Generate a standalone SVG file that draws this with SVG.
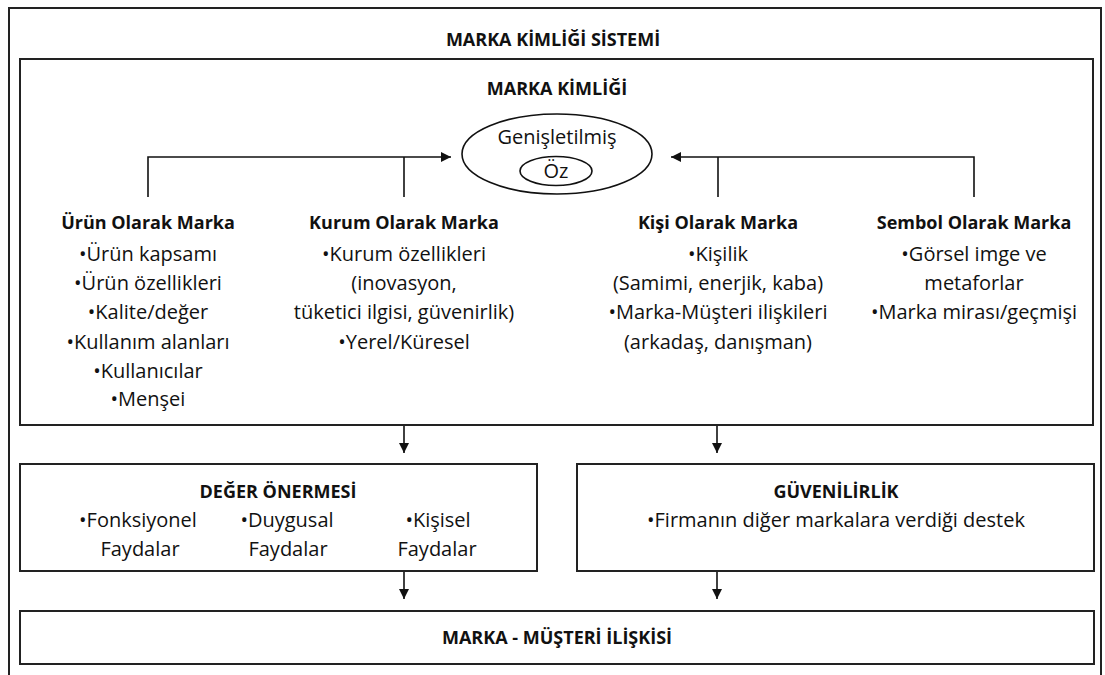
<svg xmlns="http://www.w3.org/2000/svg" width="1105" height="675" viewBox="0 0 1105 675">
<style>
.frame{fill:none;stroke:#222;stroke-width:2}
.box{fill:#fff;stroke:#222;stroke-width:2}
.line{fill:none;stroke:#111;stroke-width:1.6}
.t{font-family:"Open Sans","Liberation Sans",sans-serif;fill:#111;text-anchor:middle}
.b{font-weight:700;font-size:18px}
.r{font-size:20px}
</style>
<defs>
<marker id="ah" viewBox="0 0 10 10" refX="10" refY="5" markerWidth="10" markerHeight="10" markerUnits="userSpaceOnUse" orient="auto">
<path d="M0,0 L10,5 L0,10 Z" fill="#111"/>
</marker>
</defs>
<rect width="1105" height="675" fill="#fff"/>
<g id="system">
<rect class="frame" x="9" y="8" width="1092" height="690"/>
<text class="t b" x="553" y="46">MARKA KİMLİĞİ SİSTEMİ</text>
</g>
<g id="identity">
<rect class="box" x="20" y="59" width="1073" height="366"/>
<text class="t b" x="557" y="95">MARKA KİMLİĞİ</text>
</g>
<g id="core">
<ellipse cx="557" cy="154" rx="95" ry="40" fill="#fff" stroke="#111" stroke-width="1.6"/>
<text class="t r" x="557" y="144">Genişletilmiş</text>
<ellipse cx="556" cy="171" rx="36" ry="14.5" fill="#fff" stroke="#111" stroke-width="1.6"/>
<text class="t r" x="556" y="178">Öz</text>
</g>
<g id="product">
<text class="t b" x="148" y="229">Ürün Olarak Marka</text>
<text class="t r" x="148" y="261">•Ürün kapsamı</text>
<text class="t r" x="148" y="290">•Ürün özellikleri</text>
<text class="t r" x="148" y="319">•Kalite/değer</text>
<text class="t r" x="148" y="349">•Kullanım alanları</text>
<text class="t r" x="148" y="378">•Kullanıcılar</text>
<text class="t r" x="148" y="406">•Menşei</text>
</g>
<g id="organization">
<text class="t b" x="404" y="229">Kurum Olarak Marka</text>
<text class="t r" x="404" y="261">•Kurum özellikleri</text>
<text class="t r" x="404" y="290">(inovasyon,</text>
<text class="t r" x="404" y="319">tüketici ilgisi, güvenirlik)</text>
<text class="t r" x="404" y="349">•Yerel/Küresel</text>
</g>
<g id="person">
<text class="t b" x="718" y="229">Kişi Olarak Marka</text>
<text class="t r" x="718" y="261">•Kişilik</text>
<text class="t r" x="718" y="290">(Samimi, enerjik, kaba)</text>
<text class="t r" x="718" y="319">•Marka-Müşteri ilişkileri</text>
<text class="t r" x="718" y="349">(arkadaş, danışman)</text>
</g>
<g id="symbol">
<text class="t b" x="974" y="229">Sembol Olarak Marka</text>
<text class="t r" x="974" y="261">•Görsel imge ve</text>
<text class="t r" x="974" y="290">metaforlar</text>
<text class="t r" x="974" y="319">•Marka mirası/geçmişi</text>
</g>
<g id="value">
<rect class="box" x="20" y="464" width="517" height="107"/>
<text class="t b" x="278" y="498">DEĞER ÖNERMESİ</text>
<text class="t r" x="138" y="527">•Fonksiyonel</text>
<text class="t r" x="140" y="556">Faydalar</text>
<text class="t r" x="287" y="527">•Duygusal</text>
<text class="t r" x="288" y="556">Faydalar</text>
<text class="t r" x="438" y="527">•Kişisel</text>
<text class="t r" x="437" y="556">Faydalar</text>
</g>
<g id="credibility">
<rect class="box" x="577" y="464" width="517" height="107"/>
<text class="t b" x="836" y="498">GÜVENİLİRLİK</text>
<text class="t r" x="836" y="527">•Firmanın diğer markalara verdiği destek</text>
</g>
<g id="relationship">
<rect class="box" x="20" y="611" width="1074" height="53"/>
<text class="t b" x="557" y="644">MARKA - MÜŞTERİ İLİŞKİSİ</text>
</g>
<g id="connectors">
<path class="line" d="M148,197 V157 H451" marker-end="url(#ah)"/>
<path class="line" d="M404,197 V157"/>
<path class="line" d="M974,197 V157 H671" marker-end="url(#ah)"/>
<path class="line" d="M718,197 V157"/>
<path class="line" d="M404,426 V453" marker-end="url(#ah)"/>
<path class="line" d="M717,426 V453" marker-end="url(#ah)"/>
<path class="line" d="M404,572 V599" marker-end="url(#ah)"/>
<path class="line" d="M717,572 V599" marker-end="url(#ah)"/>
</g>
</svg>
